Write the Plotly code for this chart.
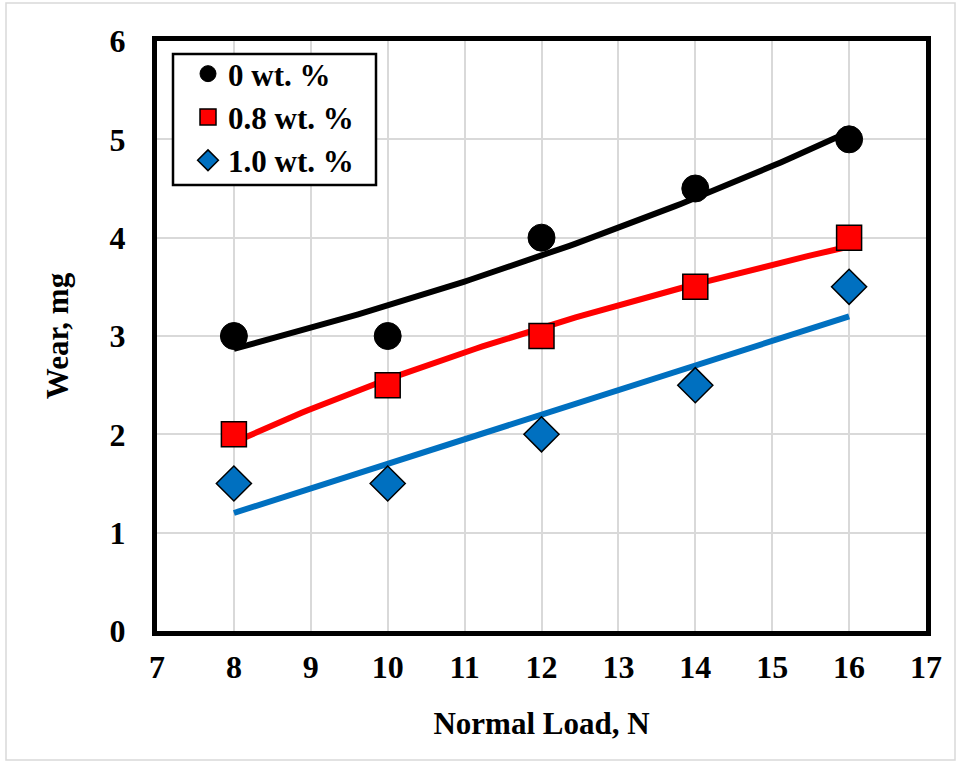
import numpy as np
import plotly.graph_objects as go

loads = [8, 10, 12, 14, 16]
wear_0 = [3.0, 3.0, 4.0, 4.5, 5.0]
wear_08 = [2.0, 2.5, 3.0, 3.5, 4.0]
wear_10 = [1.5, 1.5, 2.0, 2.5, 3.5]
names = ["0 wt. %", "0.8 wt. %", "1.0 wt. %"]

x = np.array(loads, dtype=float)
xs = np.linspace(8, 16, 100)

# trendlines: exponential (black), logarithmic (red), linear (blue)
b0, a0 = np.polyfit(x, np.log(wear_0), 1)
t0 = np.exp(a0 + b0 * xs)
b1, a1 = np.polyfit(np.log(x), wear_08, 1)
t1 = a1 + b1 * np.log(xs)
b2, a2 = np.polyfit(x, wear_10, 1)
t2 = a2 + b2 * xs

fam = "Liberation Serif, Times New Roman, serif"

fig = go.Figure()
fig.add_trace(go.Scatter(x=xs, y=t0, mode="lines", line=dict(color="black", width=6), showlegend=False, hoverinfo="skip"))
fig.add_trace(go.Scatter(x=xs, y=t1, mode="lines", line=dict(color="#ff0000", width=6), showlegend=False, hoverinfo="skip"))
fig.add_trace(go.Scatter(x=xs, y=t2, mode="lines", line=dict(color="#0070c0", width=6), showlegend=False, hoverinfo="skip"))

fig.add_trace(go.Scatter(x=loads, y=wear_0, mode="markers", name="<b>" + names[0] + "</b>",
                         marker=dict(symbol="circle", size=27, color="black", line=dict(color="black", width=1))))
fig.add_trace(go.Scatter(x=loads, y=wear_08, mode="markers", name="<b>" + names[1] + "</b>",
                         marker=dict(symbol="square", size=25, color="#ff0000", line=dict(color="black", width=1.5))))
fig.add_trace(go.Scatter(x=loads, y=wear_10, mode="markers", name="<b>" + names[2] + "</b>",
                         marker=dict(symbol="diamond", size=27, color="#0070c0", line=dict(color="black", width=1.5))))

L, R, T, B = 157, 34, 41, 134
W, H = 960, 765
pw, ph = W - L - R, H - T - B

def px(v):
    return (v - L) / pw

def py(v):
    return (H - B - v) / ph

fig.update_layout(
    width=W, height=H,
    margin=dict(l=L, r=R, t=T, b=B),
    paper_bgcolor="white", plot_bgcolor="white",
    font=dict(family=fam, color="black", size=30),
    showlegend=True,
    legend=dict(x=px(188), y=py(47), xanchor="left", yanchor="top",
                borderwidth=0, bgcolor="rgba(0,0,0,0)",
                font=dict(size=31, family=fam, color="black"),
                itemwidth=30, tracegroupgap=0),
    xaxis=dict(range=[7, 17], dtick=1, tick0=7, showgrid=True, gridcolor="#d9d9d9", gridwidth=1.5,
               showline=True, linecolor="black", linewidth=5, mirror=True, ticks="",
               zeroline=False, tickfont=dict(size=32, family=fam, color="black"),
               ticklabelstandoff=4,
               title=dict(text="<b>Normal Load, N</b>", font=dict(size=31, family=fam, color="black"), standoff=29),
               tickprefix="<b>", ticksuffix="</b>"),
    yaxis=dict(range=[0, 6], dtick=1, showgrid=True, gridcolor="#d9d9d9", gridwidth=1.5,
               showline=True, linecolor="black", linewidth=5, mirror=True, ticks="",
               zeroline=False, tickfont=dict(size=32, family=fam, color="black"),
               ticklabelstandoff=20,
               title=dict(text="<b>Wear, mg</b>", font=dict(size=31, family=fam, color="black"), standoff=33),
               tickprefix="<b>", ticksuffix="</b>"),
)

# legend box
fig.add_shape(type="rect", xref="paper", yref="paper",
              x0=px(173), x1=px(376), y0=py(185), y1=py(54),
              line=dict(color="black", width=2.5), fillcolor="white", layer="above")

# outer light-gray chart border
fig.add_shape(type="rect", xref="paper", yref="paper",
              x0=px(6), x1=px(955), y0=py(760), y1=py(3),
              line=dict(color="#d9d9d9", width=1.5), fillcolor="rgba(0,0,0,0)", layer="below")

fig.write_html("out.html")
